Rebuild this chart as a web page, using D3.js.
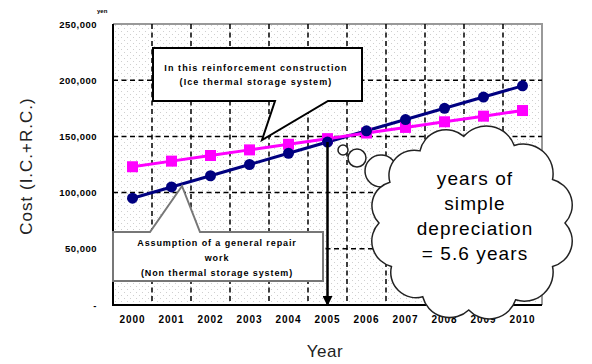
<!DOCTYPE html>
<html>
<head>
<meta charset="utf-8">
<script src="https://cdn.jsdelivr.net/npm/d3@7"></script>
<style>
  html, body { margin: 0; padding: 0; background: #fff; }
  svg { display: block; }
  text { font-family: "Liberation Sans", Arial, sans-serif; }
</style>
</head>
<body>
<svg id="chart" width="592" height="364"></svg>
<script>
// Cost comparison: repair work vs. ice thermal storage reinforcement
const years = ["2000","2001","2002","2003","2004","2005","2006","2007","2008","2009","2010"];
const costRepair = [95000,105000,115000,125000,135000,145000,155000,165000,175000,185000,195000];
const costIceStorage = [123000,128000,133000,138000,143000,148000,153000,158000,163000,168000,173000];
const yTicks = [0,50000,100000,150000,200000,250000];
const yTickLabels = ["-","50,000","100,000","150,000","200,000","250,000"];

const svg = d3.select("#chart");
const L = 113, R = 542, T = 24, B = 305;

const x = d3.scaleBand().domain(years).range([L, R]);
const cx = d => x(d) + x.bandwidth() / 2;
const y = d3.scaleLinear().domain([0, 250000]).range([B, T]);

// dotted plot background
const defs = svg.append("defs");
const pat = defs.append("pattern").attr("id", "dots")
  .attr("width", 6).attr("height", 6).attr("patternUnits", "userSpaceOnUse");
pat.append("rect").attr("width", 6).attr("height", 6).attr("fill", "#fff");
pat.append("rect").attr("x", 1).attr("y", 1).attr("width", 1).attr("height", 1).attr("fill", "#cfcfcf");
pat.append("rect").attr("x", 4).attr("y", 4).attr("width", 1).attr("height", 1).attr("fill", "#cfcfcf");

defs.append("marker").attr("id", "arrow")
  .attr("viewBox", "0 0 10 10").attr("refX", 9).attr("refY", 5)
  .attr("markerWidth", 4).attr("markerHeight", 4).attr("orient", "auto")
  .append("path").attr("d", "M0,0 L10,5 L0,10 Z").attr("fill", "#000");

svg.append("rect").attr("x", L).attr("y", T).attr("width", R - L).attr("height", B - T)
  .attr("fill", "url(#dots)");

// top/right frame in gray
svg.append("path").attr("d", `M${L},${T} H${R} V${B}`)
  .attr("fill", "none").attr("stroke", "#999").attr("stroke-width", 2);

// dashed grid
const grid = svg.append("g").attr("stroke", "#000").attr("stroke-width", 1.5)
  .attr("stroke-dasharray", "5,3.5");
yTicks.filter(v => v > 0 && v < 250000).forEach(v => {
  grid.append("line").attr("x1", L).attr("x2", R).attr("y1", y(v)).attr("y2", y(v));
});
years.slice(1).forEach(yr => {
  grid.append("line").attr("x1", x(yr)).attr("x2", x(yr)).attr("y1", T).attr("y2", B);
});

// axes lines
svg.append("path").attr("d", `M${L},${T} V${B} H${R}`)
  .attr("fill", "none").attr("stroke", "#000").attr("stroke-width", 2);

// y tick labels
const yAxis = d3.axisLeft(y).tickValues(yTicks).tickSize(0).tickPadding(16)
  .tickFormat((d, i) => yTickLabels[i]);
const gy = svg.append("g").attr("transform", `translate(${L},0)`).call(yAxis);
gy.select(".domain").remove();
gy.selectAll("text").attr("font-size", 9.5).attr("font-weight", "bold")
  .attr("fill", "#000").style("letter-spacing", "0.5px");

// x tick labels
const xAxis = d3.axisBottom(x).tickSize(0).tickPadding(11);
const gx = svg.append("g").attr("transform", `translate(0,${B})`).call(xAxis);
gx.select(".domain").remove();
gx.selectAll("text").attr("font-size", 10).attr("font-weight", "bold")
  .attr("fill", "#000").style("letter-spacing", "1px");

// unit
svg.append("text").attr("x", 97).attr("y", 13).attr("font-size", 6)
  .attr("font-weight", "bold").text("yen");

// axis titles
svg.append("text").attr("x", 325).attr("y", 357).attr("text-anchor", "middle")
  .attr("font-size", 17).attr("fill", "#222").style("letter-spacing", "0.5px").text("Year");
svg.append("text").attr("transform", "translate(32,166) rotate(-90)")
  .attr("text-anchor", "middle").attr("font-size", 17).attr("fill", "#222")
  .style("letter-spacing", "1px").text("Cost (I.C.+R.C.)");

// series lines
const line = vals => d3.line().x((d, i) => cx(years[i])).y(d => y(d))(vals);

svg.append("path").attr("d", line(costRepair)).attr("fill", "none")
  .attr("stroke", "#000080").attr("stroke-width", 3);
svg.append("path").attr("d", line(costIceStorage)).attr("fill", "none")
  .attr("stroke", "#ff00ff").attr("stroke-width", 3);

svg.append("g").selectAll("rect").data(costIceStorage).join("rect")
  .attr("x", (d, i) => cx(years[i]) - 5.5).attr("y", d => y(d) - 5.5)
  .attr("width", 11).attr("height", 11).attr("fill", "#ff00ff");
svg.append("g").selectAll("circle").data(costRepair).join("circle")
  .attr("cx", (d, i) => cx(years[i])).attr("cy", d => y(d))
  .attr("r", 5.5).attr("fill", "#000080");

// break-even arrow at 2005
svg.append("line").attr("x1", cx("2005")).attr("x2", cx("2005"))
  .attr("y1", y(costRepair[5])).attr("y2", B)
  .attr("stroke", "#000").attr("stroke-width", 2.5).attr("marker-end", "url(#arrow)");

// callout: ice thermal storage system
const c1 = `M153,48 H362 V101 H328 L262,140 L275,101 H153 Z`;
svg.append("path").attr("d", c1).attr("fill", "#fff")
  .attr("stroke", "#000").attr("stroke-width", 2).attr("stroke-linejoin", "miter");
const t1 = svg.append("text").attr("text-anchor", "middle").attr("font-size", 9)
  .attr("font-weight", "bold").style("letter-spacing", "1.1px");
t1.append("tspan").attr("x", 256).attr("y", 71).text("In this reinforcement construction");
t1.append("tspan").attr("x", 256).attr("y", 85).text("(Ice thermal storage system)");

// callout: general repair work
const c2 = `M113,232 H150 L182,186 L200,232 H323 V281 H113 Z`;
svg.append("path").attr("d", c2).attr("fill", "#fff")
  .attr("stroke", "#777").attr("stroke-width", 2);
const t2 = svg.append("text").attr("text-anchor", "middle").attr("font-size", 9)
  .attr("font-weight", "bold").style("letter-spacing", "0.9px");
t2.append("tspan").attr("x", 217).attr("y", 246).text("Assumption of a general repair");
t2.append("tspan").attr("x", 217).attr("y", 261).text("work");
t2.append("tspan").attr("x", 217).attr("y", 276).text("(Non thermal storage system)");

// thought cloud
const cloudCx = 472, cloudCy = 223, cloudRx = 93, cloudRy = 87;
const bumpAngles = [0, 30, 62, 92, 122, 150, 180, 208, 236, 265, 297, 330];
const pts = bumpAngles.map(a => {
  const r = a * Math.PI / 180;
  return [cloudCx + cloudRx * Math.cos(r), cloudCy + cloudRy * Math.sin(r)];
});
let cd = `M${pts[0][0]},${pts[0][1]}`;
pts.forEach((p, i) => {
  const q = pts[(i + 1) % pts.length];
  const chord = Math.hypot(q[0] - p[0], q[1] - p[1]);
  const rr = chord * 0.58;
  cd += ` A${rr},${rr} 0 0 1 ${q[0]},${q[1]}`;
});
cd += " Z";
const trail = [[343, 150, 5], [357, 158, 9], [381, 171, 16]];
svg.append("g").selectAll("circle").data(trail).join("circle")
  .attr("cx", d => d[0]).attr("cy", d => d[1]).attr("r", d => d[2])
  .attr("fill", "#fff").attr("stroke", "#222").attr("stroke-width", 1.5);
svg.append("path").attr("d", cd).attr("fill", "#fff")
  .attr("stroke", "#222").attr("stroke-width", 1.5);

const cloudLines = ["years of", "simple", "depreciation", "= 5.6 years"];
svg.append("g").selectAll("text").data(cloudLines).join("text")
  .attr("x", 475).attr("y", (d, i) => 185 + i * 25)
  .attr("text-anchor", "middle").attr("font-size", 19).attr("fill", "#000")
  .style("letter-spacing", "1.1px").text(d => d);
</script>
</body>
</html>
